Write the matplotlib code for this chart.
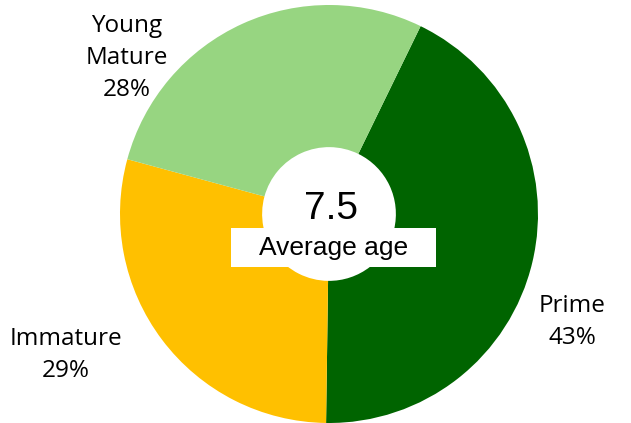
import matplotlib
matplotlib.use('Agg')
import matplotlib.pyplot as plt
from matplotlib.patches import Rectangle

labels = ['Prime', 'Immature', 'Young\nMature']
shares = [43, 29, 28]
colors = ['#006400', '#FFC000', '#97D581']
avg_age = '7.5'

# label centres in data units (radius = 1)
label_pos = [(1.163, -0.517), (-1.258, -0.675), (-0.967, 0.746)]

fig = plt.figure(figsize=(6.31, 4.23), dpi=100)
ax = fig.add_axes([0, 0, 1, 1])

ax.pie(shares, colors=colors, startangle=64, counterclock=False,
       radius=1.0, wedgeprops=dict(width=0.68, edgecolor='none'))

for lab, val, (x, y) in zip(labels, shares, label_pos):
    ax.text(x, y, '%s\n%d%%' % (lab, val), ha='center', va='center',
            fontsize=17.5, family='Open Sans', linespacing=1.45)

# white box behind subtitle
ax.add_patch(Rectangle((-0.469, -0.254), 0.981, 0.187, facecolor='white',
                       edgecolor='none', zorder=3))
ax.text(0.01, 0.025, avg_age, ha='center', va='center', fontsize=28,
        family='Liberation Sans', zorder=4)
ax.text(0.024, -0.163, 'Average age', ha='center', va='center', fontsize=19,
        family='Liberation Sans', zorder=4)

ax.set_xlim(-329 / 209, (631 - 329) / 209)
ax.set_ylim(-1.0, 214 / 209)
ax.set_aspect('auto')
ax.axis('off')

fig.savefig('out.png', dpi=100)
